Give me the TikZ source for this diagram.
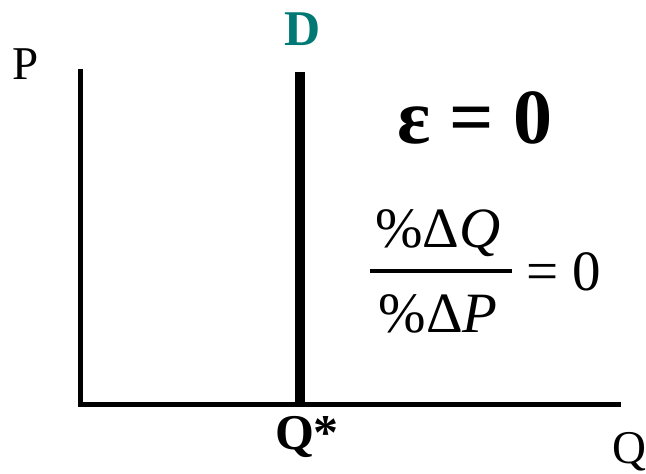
\documentclass[tikz,border=0pt]{standalone}
\usepackage{fontspec}
\setmainfont{LiberationSerif}[Extension=.ttf,UprightFont=*-Regular,BoldFont=*-Bold,ItalicFont=*-Italic,BoldItalicFont=*-BoldItalic]
\definecolor{dteal}{RGB}{0,120,115}

\begin{document}
\begin{tikzpicture}[x=1pt,y=-1pt]
  \tikzset{axis label/.style={inner sep=0pt,font=\fontsize{47}{50}\selectfont},
           big label/.style={inner sep=0pt,font=\fontsize{50}{54}\selectfont\bfseries},
           ratio text/.style={inner sep=0pt,font=\fontsize{57}{60}\selectfont}}
  \useasboundingbox (0,0) rectangle (646,474);

  % axes
  \coordinate (top) at (80,69);
  \coordinate (O) at (80,404);
  \coordinate (right) at (621,404);
  \draw [line width=5pt] (top) -- (O) -- (right);

  % perfectly inelastic demand
  \coordinate (Dtop) at (300,72);
  \coordinate (Dbot) at (300,404);
  \draw [line width=10pt] (Dtop) -- (Dbot);

  \node [axis label] (P) at (26,64) {P};
  \node [axis label] (Q) at (629,452) {Q};
  \node [big label,text=dteal] (D) at (303,29) {D};
  \node [big label] (Qstar) at (307,437) {Q*};

  \node [big label,font=\fontsize{78}{80}\selectfont\bfseries] (eps) at (475,118) {ε = 0};

  % the ratio
  \node [ratio text] (num) at (438,233) {\%Δ\textit{Q}};
  \node [ratio text] (den) at (438,314) {\%Δ\textit{P}};
  \coordinate (barL) at (370,271);
  \coordinate (barR) at (512,271);
  \draw [line width=3.5pt] (barL) -- (barR);
  \node [ratio text,anchor=west] (eq) at (526,272) {= 0};
\end{tikzpicture}
\end{document}
